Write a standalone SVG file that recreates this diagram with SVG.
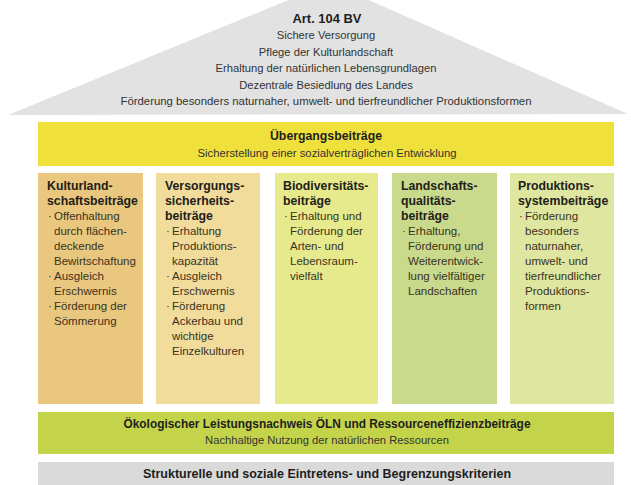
<svg xmlns="http://www.w3.org/2000/svg" width="631" height="485" viewBox="0 0 631 485">
<style>
text{font-family:"Liberation Sans",Arial,sans-serif;}
.t{font-size:12.5px;font-weight:bold;fill:#1e1e1e;}
.s{font-size:11.2px;fill:#333333;}
.c{text-anchor:middle;}
.h{font-size:12.3px;font-weight:bold;fill:#222018;}
.b{font-size:11.5px;fill:#3a321e;}
</style>
<rect width="631" height="485" fill="#ffffff"/>
<g id="roof">
<polygon points="8,115 330,-17 628,114" fill="#e2e2e2"/>
<text class="t c" x="327" y="23" textLength="69" lengthAdjust="spacingAndGlyphs">Art. 104 BV</text>
<text class="s c" x="326" y="39">Sichere Versorgung</text>
<text class="s c" x="326" y="56">Pflege der Kulturlandschaft</text>
<text class="s c" x="326" y="72">Erhaltung der natürlichen Lebensgrundlagen</text>
<text class="s c" x="326" y="89">Dezentrale Besiedlung des Landes</text>
<text class="s c" x="326" y="105" textLength="411" lengthAdjust="spacingAndGlyphs">Förderung besonders naturnaher, umwelt- und tierfreundlicher Produktionsformen</text>
</g>
<g id="uebergang">
<rect x="38" y="122" width="576" height="44" fill="#efe03c"/>
<text class="t c" x="326" y="140" textLength="112" lengthAdjust="spacingAndGlyphs">Übergangsbeiträge</text>
<text class="s c" x="327" y="157" textLength="259" lengthAdjust="spacingAndGlyphs">Sicherstellung einer sozialverträglichen Entwicklung</text>
</g>
<g id="kulturlandschaft">
<rect x="38" y="173" width="105" height="231" fill="#e9c77f"/>
<text class="h" x="47" y="190">Kulturland-</text>
<text class="h" x="47" y="205">schaftsbeiträge</text>
<text class="b" x="48" y="220">·</text><text class="b" x="54" y="220">Offenhaltung</text>
<text class="b" x="54" y="235">durch flächen-</text>
<text class="b" x="54" y="250">deckende</text>
<text class="b" x="54" y="265">Bewirtschaftung</text>
<text class="b" x="48" y="280">·</text><text class="b" x="54" y="280">Ausgleich</text>
<text class="b" x="54" y="295">Erschwernis</text>
<text class="b" x="48" y="310">·</text><text class="b" x="54" y="310">Förderung der</text>
<text class="b" x="54" y="325">Sömmerung</text>
</g>
<g id="versorgung">
<rect x="156" y="173" width="104" height="231" fill="#f1dc9c"/>
<text class="h" x="165" y="190">Versorgungs-</text>
<text class="h" x="165" y="205">sicherheits-</text>
<text class="h" x="165" y="220">beiträge</text>
<text class="b" x="166" y="235">·</text><text class="b" x="172" y="235">Erhaltung</text>
<text class="b" x="172" y="250">Produktions-</text>
<text class="b" x="172" y="265">kapazität</text>
<text class="b" x="166" y="280">·</text><text class="b" x="172" y="280">Ausgleich</text>
<text class="b" x="172" y="295">Erschwernis</text>
<text class="b" x="166" y="310">·</text><text class="b" x="172" y="310">Förderung</text>
<text class="b" x="172" y="325">Ackerbau und</text>
<text class="b" x="172" y="340">wichtige</text>
<text class="b" x="172" y="355">Einzelkulturen</text>
</g>
<g id="biodiversitaet">
<rect x="275" y="173" width="103" height="231" fill="#e7ea8c"/>
<text class="h" x="283" y="190">Biodiversitäts-</text>
<text class="h" x="283" y="205">beiträge</text>
<text class="b" x="284" y="220">·</text><text class="b" x="290" y="220">Erhaltung und</text>
<text class="b" x="290" y="235">Förderung der</text>
<text class="b" x="290" y="250">Arten- und</text>
<text class="b" x="290" y="265">Lebensraum-</text>
<text class="b" x="290" y="280">vielfalt</text>
</g>
<g id="landschaftsqualitaet">
<rect x="392" y="173" width="105" height="231" fill="#c9da8c"/>
<text class="h" x="401" y="190">Landschafts-</text>
<text class="h" x="401" y="205">qualitäts-</text>
<text class="h" x="401" y="220">beiträge</text>
<text class="b" x="402" y="235">·</text><text class="b" x="408" y="235">Erhaltung,</text>
<text class="b" x="408" y="250">Förderung und</text>
<text class="b" x="408" y="265">Weiterentwick-</text>
<text class="b" x="408" y="280">lung vielfältiger</text>
<text class="b" x="408" y="295">Landschaften</text>
</g>
<g id="produktionssystem">
<rect x="510" y="173" width="104" height="231" fill="#dfe69f"/>
<text class="h" x="518" y="190">Produktions-</text>
<text class="h" x="518" y="205">systembeiträge</text>
<text class="b" x="519" y="220">·</text><text class="b" x="525" y="220">Förderung</text>
<text class="b" x="525" y="235">besonders</text>
<text class="b" x="525" y="250">naturnaher,</text>
<text class="b" x="525" y="265">umwelt- und</text>
<text class="b" x="525" y="280">tierfreundlicher</text>
<text class="b" x="525" y="295">Produktions-</text>
<text class="b" x="525" y="310">formen</text>
</g>
<g id="oeln">
<rect x="38" y="412" width="576" height="42" fill="#c3d44a"/>
<text class="t c" x="327" y="428" textLength="407" lengthAdjust="spacingAndGlyphs">Ökologischer Leistungsnachweis ÖLN und Ressourceneffizienzbeiträge</text>
<text class="s c" x="327" y="444">Nachhaltige Nutzung der natürlichen Ressourcen</text>
</g>
<g id="kriterien">
<rect x="38" y="462" width="576" height="23" fill="#dadada"/>
<text class="t c" x="327" y="478">Strukturelle und soziale Eintretens- und Begrenzungskriterien</text>
</g>
<g id="connectors"/>
</svg>
